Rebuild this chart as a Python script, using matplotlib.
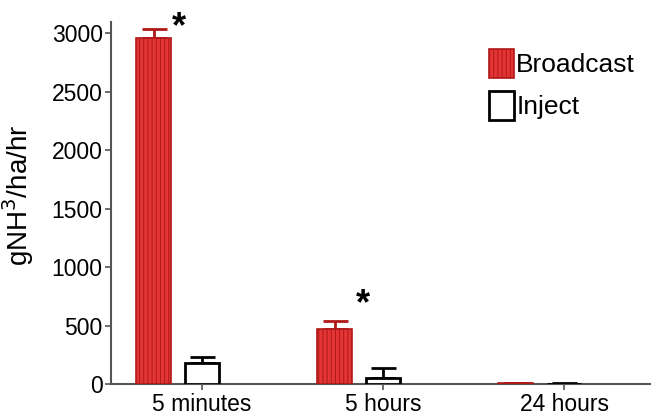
import matplotlib
matplotlib.use("Agg")
import matplotlib.pyplot as plt
import numpy as np

plt.rcParams['font.family'] = ['Liberation Sans', 'DejaVu Sans']
plt.rcParams['hatch.color'] = '#b01818'
plt.rcParams['hatch.linewidth'] = 0.7

times = ["5 minutes", "5 hours", "24 hours"]
broadcast = [2960, 470, 10]
broadcast_err = [75, 72, 3]
inject = [180, 56, 6]
inject_err = [56, 86, 2]
# star markers: (group index offset, height)
star_x = [-0.13, 0.89]
star_y = [3050, 680]

red = '#e33535'
dark_red = '#b01818'

fig = plt.figure(figsize=(6.51, 4.18), dpi=100)
ax = fig.add_axes([0.1705, 0.0806, 0.8295, 0.866])

x = np.arange(len(times))
w = 0.19
off = 0.268

ax.bar(x - off, broadcast, width=w, color=red, edgecolor=dark_red,
       linewidth=1.2, hatch='||||', label='Broadcast', zorder=3)
ax.bar(x, inject, width=w, color='white', edgecolor='black',
       linewidth=2, label='Inject', zorder=3)
ax.errorbar(x - off, broadcast, yerr=[np.zeros(3), broadcast_err], fmt='none',
            ecolor=dark_red, elinewidth=2, capsize=9, capthick=2, zorder=2)
ax.errorbar(x, inject, yerr=[np.zeros(3), inject_err], fmt='none',
            ecolor='black', elinewidth=2, capsize=9, capthick=2, zorder=2)

for sx, sy in zip(star_x, star_y):
    ax.text(sx, sy, '*', ha='center', va='center', fontsize=26,
            fontweight='bold', clip_on=False)

ax.set_xlim(-0.503, 2.48)
ax.set_ylim(0, 3095)
ax.set_xticks(x)
ax.set_xticklabels(times)
ax.set_yticks(np.arange(0, 3001, 500))
ax.set_ylabel('gNH$^3$/ha/hr', fontsize=20)
ax.yaxis.set_label_coords(-0.138, 0.522)
ax.tick_params(labelsize=16.5, length=4, width=1.2, color='#555555', pad=2)

for s in ['top', 'right']:
    ax.spines[s].set_visible(False)
for s in ['left', 'bottom']:
    ax.spines[s].set_color('#555555')
    ax.spines[s].set_linewidth(1.5)

ax.legend(loc='upper right', bbox_to_anchor=(1.0, 0.97), frameon=False,
          fontsize=19, handlelength=0.95, handleheight=1.3,
          handletextpad=0.1, labelspacing=0.5, borderaxespad=0.2)

fig.savefig('out.png', dpi=100)
